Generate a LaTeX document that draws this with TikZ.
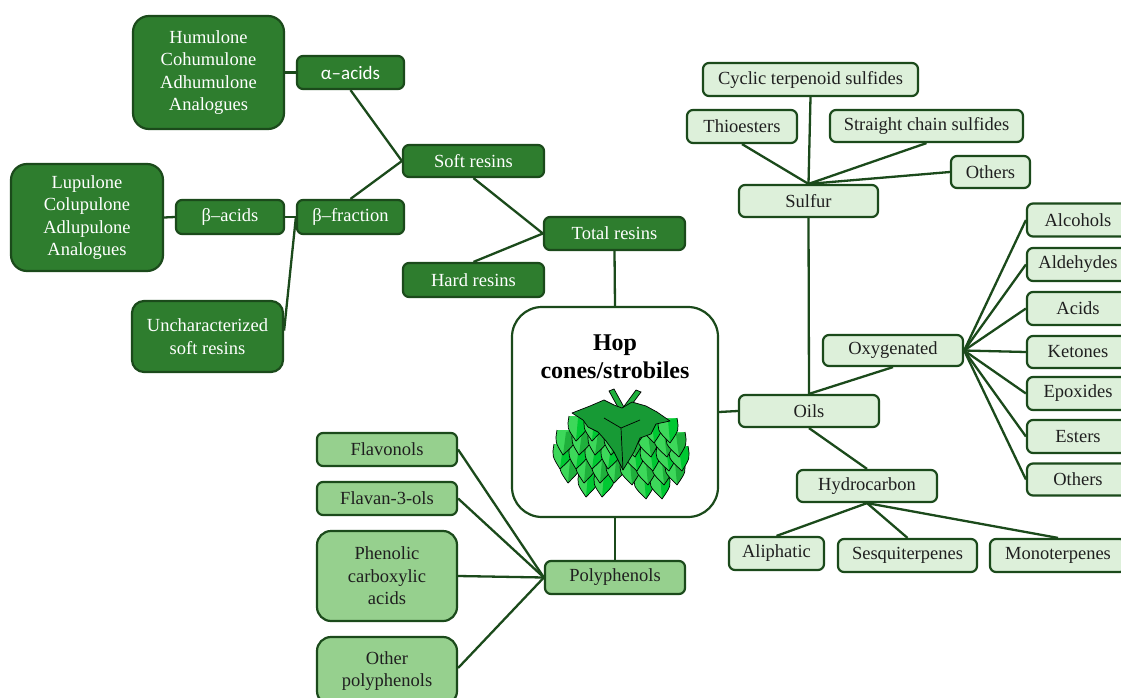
\documentclass[tikz,border=0pt]{standalone}
\usepackage{fontspec}
\setmainfont{Liberation Serif}
\newfontfamily\carl{Carlito}
\definecolor{dkfill}{HTML}{2E7D2E}
\definecolor{mdfill}{HTML}{96D08E}
\definecolor{ltfill}{HTML}{DDF0DA}
\definecolor{edge}{HTML}{1B4A1B}
\definecolor{hopA}{HTML}{3DD85A}
\definecolor{hopB}{HTML}{1FB03C}
\definecolor{hopC}{HTML}{00C832}
\definecolor{hopleaf}{HTML}{179A35}
% #1 x, #2 y (top), #3 tip offset, #4 main colour, #5 half colour
\newcommand\hopscale[5]{%
  \fill[#4] (#1-9,#2) .. controls (#1-11,#2+12) .. (#1+#3,#2+25) .. controls (#1+11,#2+12) .. (#1+9,#2) -- cycle;
  \fill[#5] (#1,#2+2) .. controls (#1+#3*0.5,#2+14) .. (#1+#3,#2+25) .. controls (#1+11,#2+12) .. (#1+9,#2) -- cycle;
  \draw[black,line width=0.7pt,line join=round] (#1-9,#2) .. controls (#1-11,#2+12) .. (#1+#3,#2+25) .. controls (#1+11,#2+12) .. (#1+9,#2);}
\begin{document}
\begin{tikzpicture}[x=1pt,y=-1pt,
  box/.style={draw=edge,line width=2.2pt,rounded corners=6pt,inner sep=0pt,align=center,
     font=\fontsize{18.5}{22.5}\selectfont},
  dk/.style={box,fill=dkfill,text=white},
  md/.style={box,fill=mdfill,text=black!88},
  lt/.style={box,fill=ltfill,text=black!88},
  conn/.style={draw=edge,line width=2.3pt}]
\useasboundingbox (0,0) rectangle (1121,698);
\clip (0,0) rectangle (1121,698);

% ---------- resins (dark) ----------
\node[dk,rounded corners=16pt,minimum width=151pt,minimum height=113pt] (hum) at (208.5,72.5) {Humulone\\Cohumulone\\Adhumulone\\Analogues};
\node[dk,minimum width=107pt,minimum height=33pt,font=\carl\fontsize{19}{22}\selectfont] (alpha) at (350.5,72.5) {α–acids};
\node[dk,minimum width=141pt,minimum height=32pt] (soft) at (473.5,161) {Soft resins};
\node[dk,rounded corners=16pt,minimum width=152pt,minimum height=107pt] (lup) at (87,217.5) {Lupulone\\Colupulone\\Adlupulone\\Analogues};
\node[dk,minimum width=108pt,minimum height=34pt] (betaa) at (230,217) {β–acids};
\node[dk,minimum width=107pt,minimum height=34pt] (betaf) at (350.5,217) {β–fraction};
\node[dk,rounded corners=12pt,minimum width=151pt,minimum height=71pt] (unch) at (207.5,336.5) {Uncharacterized\\soft resins};
\node[dk,minimum width=141pt,minimum height=33pt] (total) at (614.5,233.5) {Total resins};
\node[dk,minimum width=141pt,minimum height=34pt] (hard) at (473.5,280) {Hard resins};

% ---------- centre ----------
\node[draw=edge,line width=2.2pt,fill=white,rounded corners=30pt,minimum width=206pt,minimum height=210pt,inner sep=0pt] (hop) at (615,412) {};
\node[font=\bfseries\fontsize{24}{28}\selectfont,align=center,inner sep=0pt] (hoptitle) at (615,357) {Hop\\cones/strobiles};

% hop cone drawing (bottom rows first)
\foreach \x in {588,604} {\hopscale{\x}{472}{-2}{hopA}{hopC}}
\foreach \x in {644,660} {\hopscale{\x}{474}{2}{hopA}{hopC}}
\foreach \x in {570,586,602,616} {\hopscale{\x}{458}{-2}{hopA}{hopB}}
\foreach \x in {630,646,662,675} {\hopscale{\x}{460}{2}{hopA}{hopB}}
\foreach \x in {563,579,595,611} {\hopscale{\x}{444}{-3}{hopA}{hopC}}
\foreach \x in {634,650,666,679} {\hopscale{\x}{446}{3}{hopA}{hopC}}
\foreach \x in {566,582,598,614} {\hopscale{\x}{430}{-3}{hopA}{hopB}}
\foreach \x in {632,648,664,676} {\hopscale{\x}{432}{3}{hopA}{hopB}}
\foreach \x in {578,594,610} {\hopscale{\x}{416}{-2}{hopA}{hopC}}
\foreach \x in {636,652,668} {\hopscale{\x}{418}{2}{hopA}{hopC}}
% stems
\filldraw[fill=hopB,draw=black,line width=0.7pt] (609,391) -- (614,389) -- (625,409) -- (620,411) -- cycle;
\filldraw[fill=hopB,draw=black,line width=0.7pt] (636,390) -- (641,392) -- (627,411) -- (622,409) -- cycle;
% top leaf
\filldraw[fill=hopleaf,draw=black,line width=0.7pt,line join=round]
  (572,413) -- (590,406) -- (604,400) -- (614,405) -- (622,408) -- (632,402) -- (646,406) -- (657,412) -- (670,421)
  -- (656,424) -- (651,434) -- (640,438) -- (634,452) -- (623,470) -- (614,452)
  -- (606,441) -- (598,432) -- (588,427) -- (583,420) -- cycle;
\draw[black,line width=0.7pt] (623,470) -- (621,428) -- (604,418) (621,428) -- (640,420);

% ---------- polyphenols ----------
\node[md,minimum width=140pt,minimum height=33pt] (flavonols) at (387,449.5) {Flavonols};
\node[md,minimum width=140pt,minimum height=33pt] (flavan) at (387,498.5) {Flavan-3-ols};
\node[md,rounded corners=14pt,minimum width=140pt,minimum height=90pt] (phenolic) at (387,576) {Phenolic\\carboxylic\\acids};
\node[md,rounded corners=14pt,minimum width=140pt,minimum height=68pt] (otherp) at (387,671) {};
\node[font=\fontsize{18.5}{22.5}\selectfont,align=center,text=black!88,inner sep=0pt] (otherptext) at (387,671) {Other\\polyphenols};
\node[md,minimum width=140pt,minimum height=33pt] (poly) at (615,577.5) {Polyphenols};

% ---------- oils ----------
\node[lt,minimum width=215pt,minimum height=33pt] (cyclic) at (810.5,79.5) {Cyclic terpenoid sulfides};
\node[lt,minimum width=110pt,minimum height=33pt] (thio) at (742,126.5) {Thioesters};
\node[lt,minimum width=193pt,minimum height=32pt] (straight) at (926.5,126) {Straight chain sulfides};
\node[lt,minimum width=79pt,minimum height=32pt] (otherss) at (990.5,172) {Others};
\node[lt,minimum width=139pt,minimum height=32pt] (sulfur) at (808.5,201) {Sulfur};
\node[lt,minimum width=140pt,minimum height=32pt] (oils) at (809,411) {Oils};
\node[lt,minimum width=140pt,minimum height=31pt] (oxy) at (893,350.5) {Oxygenated};
\node[lt,minimum width=140pt,minimum height=32pt] (hydro) at (867,486) {Hydrocarbon};
\node[lt,minimum width=95pt,minimum height=33pt] (aliph) at (776.5,553.5) {Aliphatic};
\node[lt,minimum width=139pt,minimum height=33pt] (sesq) at (907.5,555.5) {Sesquiterpenes};
\node[lt,minimum width=136pt,minimum height=33pt] (mono) at (1058,555.5) {Monoterpenes};
\node[lt,minimum width=102pt,minimum height=33pt] (alc) at (1078,220) {Alcohols};
\node[lt,minimum width=102pt,minimum height=33pt] (ald) at (1078,264.5) {Aldehydes};
\node[lt,minimum width=102pt,minimum height=33pt] (acid) at (1078,308.5) {Acids};
\node[lt,minimum width=102pt,minimum height=32pt] (keto) at (1078,352) {Ketones};
\node[lt,minimum width=102pt,minimum height=33pt] (epox) at (1078,393.5) {Epoxides};
\node[lt,minimum width=102pt,minimum height=33pt] (ester) at (1078,436.5) {Esters};
\node[lt,minimum width=102pt,minimum height=32pt] (othero) at (1078,479.5) {Others};

% ---------- connectors ----------
\draw[conn] (hum.east) -- (alpha.west);
\draw[conn] (alpha.south) -- (soft.west);
\draw[conn] (betaf.north) -- (soft.west);
\draw[conn] (lup.east) -- (betaa.west);
\draw[conn] (betaa.east) -- (betaf.west);
\draw[conn] ([yshift=6pt]unch.east) -- (betaf.west);
\draw[conn] (soft.south) -- (total.west);
\draw[conn] (hard.north) -- (total.west);
\draw[conn] (total.south) -- (hop.north);
\draw[conn] (hop.south) -- (poly.north);
\draw[conn] (flavonols.east) -- (poly.west);
\draw[conn] (flavan.east) -- (poly.west);
\draw[conn] (phenolic.east) -- (poly.west);
\draw[conn] ([yshift=3pt]otherp.east) -- (poly.west);
\draw[conn] (hop.east) -- (oils.west);
\draw[conn] (oils.north) -- (sulfur.south);
\draw[conn] (oils.north) -- (oxy.south);
\draw[conn] (oils.south) -- (hydro.north);
\draw[conn] (sulfur.north) -- (cyclic.south);
\draw[conn] (sulfur.north) -- (thio.south);
\draw[conn] (sulfur.north) -- (straight.south);
\draw[conn] (sulfur.north) -- (otherss.west);
\foreach \t in {alc,ald,acid,keto,epox,ester,othero} {\draw[conn] (oxy.east) -- (\t.west);}
\draw[conn] (hydro.south) -- (aliph.north);
\draw[conn] (hydro.south) -- (sesq.north);
\draw[conn] (hydro.south) -- (mono.north);
\end{tikzpicture}
\end{document}
